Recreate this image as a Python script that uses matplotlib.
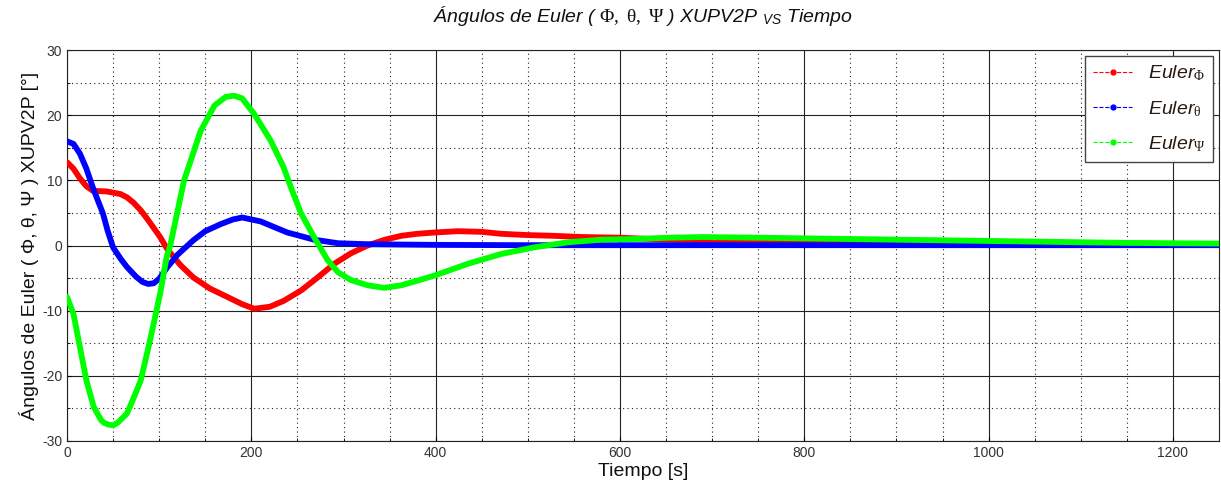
import matplotlib.pyplot as plt
from matplotlib.ticker import MultipleLocator

plt.rcParams['font.family'] = ['Liberation Sans', 'DejaVu Sans']
plt.rcParams['mathtext.fontset'] = 'custom'
plt.rcParams['mathtext.rm'] = 'Liberation Serif'
plt.rcParams['mathtext.it'] = 'Liberation Serif:italic'
plt.rcParams['mathtext.sf'] = 'Liberation Sans:italic'
plt.rcParams['axes.unicode_minus'] = False

# Euler Phi (red)
t_phi = [0, 7, 14, 21, 28, 43, 58, 65, 72, 80, 87, 95, 101, 109, 123, 137, 155, 174, 190, 203, 220,
         235, 254, 272, 290, 308, 326, 345, 363, 380, 399, 424, 450, 471, 500, 526, 560, 600, 650,
         700, 800, 900, 1000, 1100, 1250]
v_phi = [12.8, 11.8, 10.3, 9.1, 8.4, 8.3, 7.9, 7.4, 6.6, 5.4, 4.1, 2.5, 1.3, -0.6, -3.0, -4.9,
         -6.6, -7.9, -9.0, -9.7, -9.4, -8.5, -6.9, -4.9, -2.8, -1.2, 0.0, 0.9, 1.5, 1.8, 2.0, 2.2,
         2.1, 1.8, 1.6, 1.5, 1.3, 1.2, 0.9, 0.8, 0.6, 0.5, 0.4, 0.3, 0.2]

# Euler theta (blue)
t_theta = [0, 7, 14, 21, 28, 39, 44, 50, 58, 65, 75, 82, 88, 94, 100, 109, 120, 137, 150, 167, 180,
           190, 210, 239, 268, 294, 326, 360, 400, 500, 600, 800, 1000, 1250]
v_theta = [16.0, 15.6, 14.1, 11.8, 8.9, 4.9, 2.3, -0.3, -2.0, -3.3, -4.8, -5.6, -5.9, -5.8, -5.1,
           -3.3, -1.4, 0.8, 2.2, 3.3, 4.0, 4.3, 3.7, 2.0, 0.9, 0.35, 0.2, 0.15, 0.1, 0.05, 0.05,
           0.05, 0.05, 0.05]

# Euler Psi (green)
t_psi = [0, 7, 14, 21, 29, 37, 40, 45, 50, 55, 65, 72, 80, 90, 101, 108, 112, 127, 145, 160, 172,
         181, 190, 203, 221, 235, 243, 254, 268, 283, 294, 308, 326, 344, 363, 380, 399, 435, 471,
         508, 544, 580, 616, 653, 689, 750, 850, 950, 1050, 1150, 1250]
v_psi = [-7.9, -10.5, -15.6, -20.7, -24.8, -26.8, -27.2, -27.5, -27.6, -27.2, -25.8, -23.5, -20.7,
         -14.6, -7.4, -1.8, 0.0, 10.0, 17.6, 21.5, 22.8, 23.0, 22.6, 20.2, 16.1, 12.0, 8.9, 4.9,
         1.3, -2.3, -4.1, -5.3, -6.1, -6.5, -6.1, -5.4, -4.6, -2.8, -1.3, -0.25, 0.5, 0.9, 1.0,
         1.2, 1.3, 1.2, 1.0, 0.8, 0.6, 0.4, 0.3]

series = [
    (t_phi, v_phi, '#ff0000', r'$\mathsf{Euler}_{\mathrm{\Phi}}$'),
    (t_theta, v_theta, '#0000ff', r'$\mathsf{Euler}_{\mathrm{\theta}}$'),
    (t_psi, v_psi, '#00ff00', r'$\mathsf{Euler}_{\mathrm{\Psi}}$'),
]

fig = plt.figure(figsize=(12.21, 4.96), dpi=100)
ax = fig.add_axes([0.0549, 0.111, 0.9435, 0.788])

for t, v, c, lab in series:
    ax.plot(t, v, color=c, linewidth=4.2, solid_joinstyle='round', solid_capstyle='round', zorder=3)
    # legend proxy: dashed line with dot marker
    ax.plot([], [], color=c, linestyle='--', linewidth=0.8, marker='.', markersize=7, label=lab)

ax.set_xlim(0, 1250)
ax.set_ylim(-30, 30)
ax.xaxis.set_major_locator(MultipleLocator(200))
ax.xaxis.set_minor_locator(MultipleLocator(50))
ax.yaxis.set_major_locator(MultipleLocator(10))
ax.yaxis.set_minor_locator(MultipleLocator(5))
ax.grid(which='major', color='#222222', linestyle='-', linewidth=0.8, zorder=0)
ax.grid(which='minor', color='#222222', linestyle=(0, (1, 3)), linewidth=0.8, zorder=0)
ax.tick_params(which='both', direction='in', labelsize=10, labelcolor='#333333', length=3)
ax.tick_params(which='minor', length=2)
for s in ax.spines.values():
    s.set_color('#222222')

ax.set_xlabel('Tiempo [s]', fontsize=14, color='#111111', labelpad=2)
ax.set_ylabel('Ángulos de Euler ( Φ, θ, Ψ ) XUPV2P [°]', fontsize=14, color='#111111', labelpad=2)
ax.set_title(r'Ángulos de Euler ( $\mathrm{\Phi,\ \theta,\ \Psi}$ ) XUPV2P $_{\mathsf{VS}}$ Tiempo',
             fontsize=14, fontstyle='italic', color='#111111', pad=20)

leg = ax.legend(loc='upper right', prop={'size': 14},
                handlelength=2.0, labelspacing=0.8, borderaxespad=0.3, fancybox=False,
                framealpha=1, edgecolor='#444444')
leg.get_frame().set_linewidth(1.0)
for txt in leg.get_texts():
    txt.set_color('#2a1a10')

fig.savefig('out.png', dpi=100)
